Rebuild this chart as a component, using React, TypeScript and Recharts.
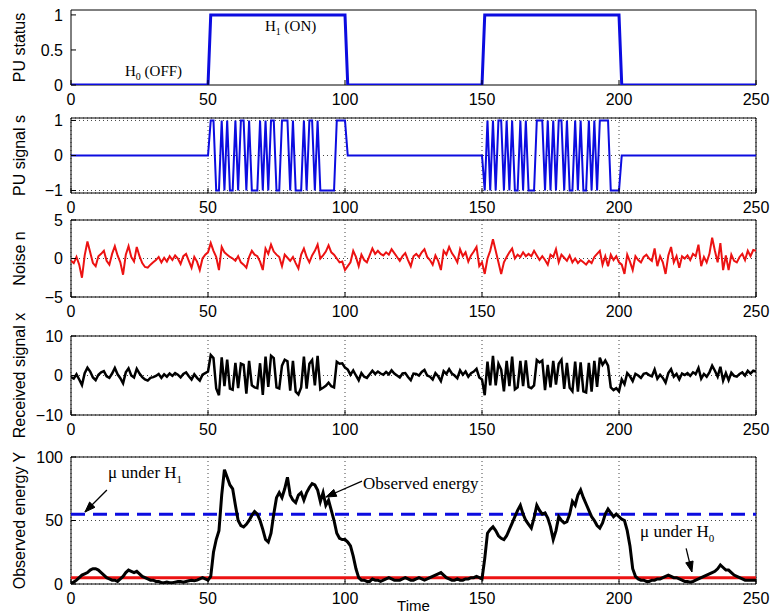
import React from 'react'
import {
  LineChart,
  Line,
  XAxis,
  YAxis,
  CartesianGrid,
  ReferenceLine,
  ReferenceArea,
  ReferenceDot,
  Label,
} from 'recharts'

const TIME_TICKS = [0, 50, 100, 150, 200, 250]

// PU status: step function (time, value) breakpoints
const STATUS_TIME = [0, 50, 51, 100, 101, 150, 151, 200, 201, 250]
const STATUS_VALUE = [0, 0, 1, 1, 0, 0, 1, 1, 0, 0]

// PU signal s during the two ON periods (t = 51..100 and t = 151..200)
const SIGNAL_ON1 = [
  1, 1, -1, -1, 1, -1, 1, -1, -1, 1,
  -1, 1, 1, -1, 1, -1, -1, -1, 1, -1,
  1, -1, 1, 1, -1, -1, 1, 1, 1, -1,
  1, -1, -1, -1, 1, -1, 1, 1, -1, 1,
  -1, -1, -1, -1, -1, -1, 1, 1, 1, 1,
]
const SIGNAL_ON2 = [
  -1, 1, -1, 1, -1, 1, 1, -1, 1, -1,
  1, -1, -1, 1, -1, 1, -1, -1, -1, 1,
  1, 1, -1, 1, -1, 1, -1, 1, 1, -1,
  1, -1, -1, 1, -1, 1, -1, -1, 1, -1,
  1, -1, 1, 1, 1, 1, -1, -1, -1, -1,
]

// Noise n, t = 0..250
const NOISE = [
  -0.3, -0.6, 0.2, -0.8, -2.5, 0.4, 2.2, 0.8, -0.6, -1.0,
  0.3, 0.6, 1.0, -0.3, -0.8, 0.6, 1.6, 0.4, -0.5, -2.1,
  0.5, 1.6, 0.2, -0.4, 1.5, 0.3, -0.6, -1.1, -1.2, -0.8,
  -0.5, -0.2, 0.2, -0.5, 0.1, -0.4, 0.3, -0.2, 0.4, 0.0,
  -0.7, 0.3, 0.6, -0.3, -1.2, 0.2, -0.4, -1.5, 0.0, 0.5,
  0.8, 2.0, 1.0, 0.2, -1.5, 1.5, 0.8, 0.5, 0.2, 0.0,
  -0.3, 0.3, -0.5, -0.8, -1.2, 0.2, 1.0, 0.5, 0.3, -0.4,
  -1.5, 1.3, 0.6, 1.8, 0.9, 0.5, 0.2, -1.0, 0.5, 0.1,
  -0.3, 0.2, -0.6, -1.3, 0.5, 1.3, 0.2, -0.5, 0.4, 1.0,
  1.8, 0.0, 0.4, 0.9, 1.7, 0.8, 0.5, 0.0, -0.5, -0.4,
  -1.5, -1.0, -0.5, 1.0, 0.2, -1.0, 0.5, -0.2, -0.5, 0.4,
  1.3, 0.6, 1.0, 0.6, 0.4, 0.8, 0.5, 1.2, 0.7, 0.2,
  -0.3, 0.3, 0.7, -0.2, -1.0, 0.3, 0.6, 0.2, 0.8, 1.2,
  0.2, -0.2, -0.8, 0.4, -0.3, -1.5, 1.0, 0.5, 1.5, 0.7,
  0.2, -0.5, 1.2, 0.3, 0.8, -0.4, 0.4, 0.9, 1.5, -1.0,
  -0.5, -2.0, 0.0, 1.0, 2.5, 1.0, -0.5, -2.0, -0.5, 0.2,
  0.8, 1.3, 0.0, 0.5, 0.2, 0.8, 0.3, 0.6, 0.3, 1.0,
  0.4, -0.2, 0.3, -0.2, -0.8, 0.5, 0.2, 1.2, -0.5, 0.5,
  0.1, -0.3, 0.4, -0.5, 0.0, -0.6, -0.2, -0.5, -0.8, -0.3,
  -0.6, 0.2, 0.6, 1.0, -0.8, 0.3, -1.0, 0.5, -0.2, 0.3,
  -0.5, -0.8, -2.0, 0.5, -0.4, -1.5, 0.3, -0.2, -0.5, 0.2,
  0.5, 0.0, -0.3, 1.3, -1.0, 0.3, -0.5, -2.0, 0.4, 1.5,
  -0.5, 0.3, -1.2, 0.3, 0.0, 0.4, -0.2, 0.6, 0.3, 1.8,
  -1.0, 0.2, -0.5, 0.6, 2.7, 1.0, -0.5, 2.0, -1.5, 0.4,
  -1.5, 0.5, -0.3, -0.5, 0.2, 0.6, -0.2, 1.0, 0.3, 1.1,
  1.0,
]

// Received signal x, t = 0..250
const RECEIVED = [
  -0.4, -0.8, 0.3, -1.0, -2.4, 0.6, 2.0, 1.0, -0.5, -1.2,
  0.2, 0.8, 1.1, -0.2, -0.6, 0.5, 1.9, 0.3, -0.7, -2.0,
  0.8, 1.8, 0.0, -0.5, 1.7, 0.5, -0.4, -1.0, -1.3, -0.6,
  -0.4, -0.1, 0.4, -0.6, 0.3, -0.3, 0.5, -0.1, 0.6, 0.2,
  -0.5, 0.4, 0.8, -0.2, -1.0, 0.3, -0.6, -1.3, 0.2, 0.6,
  1.0, 5.2, 4.4, -3.3, -5.0, 4.6, -2.7, 4.0, -3.3, -3.6,
  3.2, -3.2, 3.0, 2.7, -4.6, 3.7, -2.5, -3.0, -3.2, 3.1,
  -4.9, 4.8, -2.9, 5.0, 4.4, -3.0, -3.3, 2.5, 4.0, 3.6,
  -3.8, 3.7, -4.1, -4.8, -3.0, 4.8, -3.3, 3.0, 3.9, -2.5,
  5.0, -3.5, -3.1, -2.6, -1.8, -2.7, -3.0, 3.5, 3.0, 3.1,
  2.0, 1.5, 0.2, 1.3, 0.0, -1.2, 0.6, -0.3, -0.6, 0.3,
  1.2, 0.4, 1.0, 0.5, 0.2, 0.9, 0.3, 1.3, 0.5, 0.0,
  -0.5, 0.5, 0.6, -0.4, -1.2, 0.5, 0.4, 0.0, 0.9, 1.4,
  0.0, -0.3, -1.0, 0.6, -0.2, -1.4, 1.1, 0.4, 1.6, 0.5,
  0.0, -0.7, 1.3, 0.2, 1.0, -0.3, 0.6, 1.0, 1.7, -0.5,
  -1.0, -5.0, 3.5, -2.5, 5.0, -2.5, 3.0, 1.5, -4.0, 3.7,
  -2.7, 4.8, -3.5, -3.0, 3.7, -2.7, 3.8, -2.9, -3.2, -2.5,
  3.9, 3.3, 3.8, -3.7, 2.7, -3.0, 3.7, -2.3, 3.0, 4.0,
  -3.4, 3.2, -3.1, -4.0, 3.5, -4.1, 3.3, -4.0, -4.3, 3.2,
  -4.1, 3.7, -2.9, 4.5, 2.7, 3.8, 2.5, -3.0, -3.7, -3.2,
  -4.0, -1.0, -2.2, 0.6, -0.2, -1.4, 0.4, 0.0, -0.6, 0.4,
  0.6, 0.1, -0.2, 1.5, -0.8, 0.2, -0.6, -1.8, 0.6, 1.6,
  -0.3, 0.4, -1.0, 0.5, 0.1, 0.6, -0.1, 0.8, 0.4, 1.9,
  -0.8, 0.4, -0.3, 0.8, 2.5, 1.2, -0.3, 2.2, -1.3, 0.6,
  -1.2, 0.7, -0.1, -0.3, 0.4, 0.8, 0.0, 1.2, 0.5, 1.2,
  1.0,
]

// Observed energy Y, t = 0..250
const ENERGY = [
  0.5, 1.5, 3, 5, 7, 8, 9, 11, 12, 12,
  11, 9, 7, 5, 4, 3, 3, 2, 4, 6,
  9, 11, 10, 9, 10, 8, 6, 5, 4, 3,
  3, 2, 2, 1, 1, 1.5, 1, 1, 1.5, 2,
  2, 1.5, 2, 2.5, 3, 2.5, 3, 4, 5, 4,
  3, 6, 25, 35, 42, 70, 90, 84, 78, 75,
  62, 50, 46, 45, 47, 50, 54, 57, 55, 50,
  43, 35, 33, 40, 55, 68, 72, 68, 75, 84,
  70, 66, 64, 70, 72, 66, 72, 76, 79, 78,
  74, 65, 72, 62, 66, 58, 50, 40, 36, 35,
  35, 33, 30, 22, 12, 5, 3, 3, 2, 2,
  4, 3, 3, 2, 3, 4, 5, 4, 3, 3,
  3, 4, 5, 4, 3, 3, 4, 5, 4, 3,
  4, 5, 6, 7, 8, 9, 7, 5, 4, 3,
  3, 4, 3, 3, 4, 4, 5, 5, 6, 5,
  4, 20, 40, 43, 45, 42, 38, 36, 35, 38,
  43, 48, 53, 58, 62, 55, 50, 47, 44, 52,
  62, 58, 55, 56, 52, 45, 35, 42, 53, 50,
  48, 49, 55, 65, 62, 70, 74, 68, 63, 58,
  53, 50, 46, 44, 48, 55, 59, 56, 53, 55,
  53, 51, 50, 42, 30, 12, 6, 4, 3, 3,
  2, 2, 3, 3, 4, 4, 5, 6, 7, 6,
  5, 5, 4, 3, 2, 2, 1.5, 2, 3, 4,
  5, 6, 7, 8, 9, 10, 12, 15, 13, 11,
  11, 9, 7, 6, 5, 4, 3, 3, 3, 3,
  3,
]

const MU_H1 = 55
const MU_H0 = 5

const BLUE = '#0c0ce0'
const RED = '#ec1212'
const SANS = '"Liberation Sans", Arial, Helvetica, sans-serif'
const SERIF = '"Liberation Serif", "Times New Roman", serif'

const statusData = STATUS_TIME.map((t, i) => ({ t, v: STATUS_VALUE[i] }))
const signalData = [
  { t: 0, v: 0 },
  { t: 50, v: 0 },
  ...SIGNAL_ON1.map((v, i) => ({ t: 51 + i, v })),
  { t: 101, v: 0 },
  { t: 150, v: 0 },
  ...SIGNAL_ON2.map((v, i) => ({ t: 151 + i, v })),
  { t: 201, v: 0 },
  { t: 250, v: 0 },
]
const noiseData = NOISE.map((v, i) => ({ t: i, v }))
const receivedData = RECEIVED.map((v, i) => ({ t: i, v }))
const energyData = ENERGY.map((v, i) => ({ t: i, v }))

const minus = (v: number) => String(v).replace('-', '\u2212')

function Arrow(props: any) {
  const { x1, y1, x2, y2 } = props
  const ang = Math.atan2(y2 - y1, x2 - x1)
  const len = 11
  const a1 = ang + Math.PI - 0.35
  const a2 = ang + Math.PI + 0.35
  const p1 = `${x2 + len * Math.cos(a1)},${y2 + len * Math.sin(a1)}`
  const p2 = `${x2 + len * Math.cos(a2)},${y2 + len * Math.sin(a2)}`
  return (
    <g>
      <line x1={x1} y1={y1} x2={x2} y2={y2} stroke="#000" strokeWidth={1.3} />
      <polygon points={`${p1} ${x2},${y2} ${p2}`} fill="#000" stroke="#000" strokeWidth={1} />
    </g>
  )
}

function note(children: React.ReactNode, size: number) {
  return (p: any) => (
    <text x={p.cx} y={p.cy} fontFamily={SERIF} fontSize={size} fill="#000">
      {children}
    </text>
  )
}

type PanelProps = {
  boxTop: number
  marginTop?: number
  plotHeight: number
  axisHeight: number
  yDomain: [number, number]
  yTicks: number[]
  yLabel: string
  grid?: boolean
  xLabel?: string
  data?: any[]
  children?: React.ReactNode
}

function Panel({ boxTop, marginTop = 10, plotHeight, axisHeight, yDomain, yTicks, yLabel, grid, xLabel, data, children }: PanelProps) {
  const height = marginTop + plotHeight + axisHeight
  const cy = marginTop + plotHeight / 2
  return (
    <div style={{ position: 'absolute', left: 0, top: boxTop - marginTop, width: 771, height }}>
      <LineChart width={771} height={height} data={data} margin={{ top: marginTop, right: 15, bottom: 0, left: 0 }}>
        {grid && <CartesianGrid stroke="#444" strokeDasharray="1 3" />}
        <XAxis
          dataKey="t"
          type="number"
          domain={[0, 250]}
          ticks={TIME_TICKS}
          interval={0}
          allowDataOverflow
          height={axisHeight}
          axisLine={false}
          tickSize={-5}
          tickMargin={14}
          tickLine={{ stroke: '#000' }}
          tick={{ fill: '#000', fontSize: 16, fontFamily: SANS }}
        >
          {xLabel && (
            <Label
              content={(p: any) => {
                const vb = p.viewBox || { x: 71, width: 685 }
                return (
                  <text x={vb.x + vb.width / 2} y={marginTop + plotHeight + 27} textAnchor="middle" fontSize={15} fontFamily={SANS} fill="#000">
                    {xLabel}
                  </text>
                )
              }}
            />
          )}
        </XAxis>
        <YAxis
          type="number"
          domain={yDomain}
          ticks={yTicks}
          interval={0}
          allowDataOverflow
          width={71}
          axisLine={false}
          tickSize={-5}
          tickMargin={13}
          tickLine={{ stroke: '#000' }}
          tickFormatter={minus}
          tick={{ fill: '#000', fontSize: 16, fontFamily: SANS }}
        >
          <Label
            content={() => (
              <text
                x={19}
                y={cy}
                transform={`rotate(-90 19 ${cy})`}
                textAnchor="middle"
                dominantBaseline="central"
                fontSize={16}
                fontFamily={SANS}
                fill="#000"
              >
                {yLabel}
              </text>
            )}
          />
        </YAxis>
        <ReferenceArea x1={0} x2={250} y1={yDomain[0]} y2={yDomain[1]} fill="none" stroke="#000" strokeWidth={1} ifOverflow="visible" />
        {children}
      </LineChart>
    </div>
  )
}

export default function App() {
  return (
    <div style={{ position: 'absolute', left: 0, top: 0, width: 771, height: 614, background: '#fff', overflow: 'hidden' }}>
      <Panel boxTop={10} plotHeight={75} axisHeight={30} yDomain={[0, 1.07]} yTicks={[0, 0.5, 1]} yLabel="PU status">
        <Line data={statusData} dataKey="v" type="linear" stroke={BLUE} strokeWidth={3} dot={false} isAnimationActive={false} />
        <ReferenceDot x={70.8} y={0.77} r={1} shape={note(<>H<tspan dy={4} fontSize={10}>1</tspan><tspan dy={-4}> (ON)</tspan></>, 15)} />
        <ReferenceDot x={19.7} y={0.13} r={1} shape={note(<>H<tspan dy={4} fontSize={10}>0</tspan><tspan dy={-4}> (OFF)</tspan></>, 15)} />
      </Panel>

      <Panel boxTop={118} plotHeight={75} axisHeight={25} yDomain={[-1.07, 1.07]} yTicks={[-1, 0, 1]} yLabel="PU signal s" grid>
        <Line data={signalData} dataKey="v" type="linear" stroke={BLUE} strokeWidth={2} dot={false} isAnimationActive={false} />
      </Panel>

      <Panel boxTop={220} plotHeight={77} axisHeight={25} yDomain={[-5, 5]} yTicks={[-5, 0, 5]} yLabel="Noise n" grid data={noiseData}>
        <Line dataKey="v" type="linear" stroke={RED} strokeWidth={2} dot={false} isAnimationActive={false} />
      </Panel>

      <Panel boxTop={336} marginTop={36} plotHeight={79} axisHeight={30} yDomain={[-10, 10]} yTicks={[-10, 0, 10]} yLabel="Received signal x" grid data={receivedData}>
        <Line dataKey="v" type="linear" stroke="#000" strokeWidth={2.5} dot={false} isAnimationActive={false} />
      </Panel>

      <Panel boxTop={457} plotHeight={127} axisHeight={30} yDomain={[0, 100]} yTicks={[0, 50, 100]} yLabel="Observed energy Y" grid xLabel="Time" data={energyData}>
        <ReferenceLine y={MU_H0} stroke={RED} strokeWidth={3} />
        <ReferenceLine y={MU_H1} stroke={BLUE} strokeWidth={3} strokeDasharray="14 8" />
        <Line dataKey="v" type="linear" stroke="#000" strokeWidth={3} dot={false} isAnimationActive={false} />
        <ReferenceDot x={13.5} y={83.5} r={1} shape={note(<>μ under H<tspan dy={5} fontSize={11}>1</tspan></>, 17)} />
        <ReferenceLine segment={[{ x: 13.1, y: 74 }, { x: 5.1, y: 56.7 }]} shape={Arrow} />
        <ReferenceDot x={106.6} y={75} r={1} shape={note('Observed energy', 17)} />
        <ReferenceLine segment={[{ x: 106.2, y: 81 }, { x: 93, y: 68.5 }]} shape={Arrow} />
        <ReferenceDot x={207.7} y={37} r={1} shape={note(<>μ under H<tspan dy={5} fontSize={11}>0</tspan></>, 17)} />
        <ReferenceLine segment={[{ x: 224.5, y: 28 }, { x: 226.6, y: 9.5 }]} shape={Arrow} />
      </Panel>
    </div>
  )
}
